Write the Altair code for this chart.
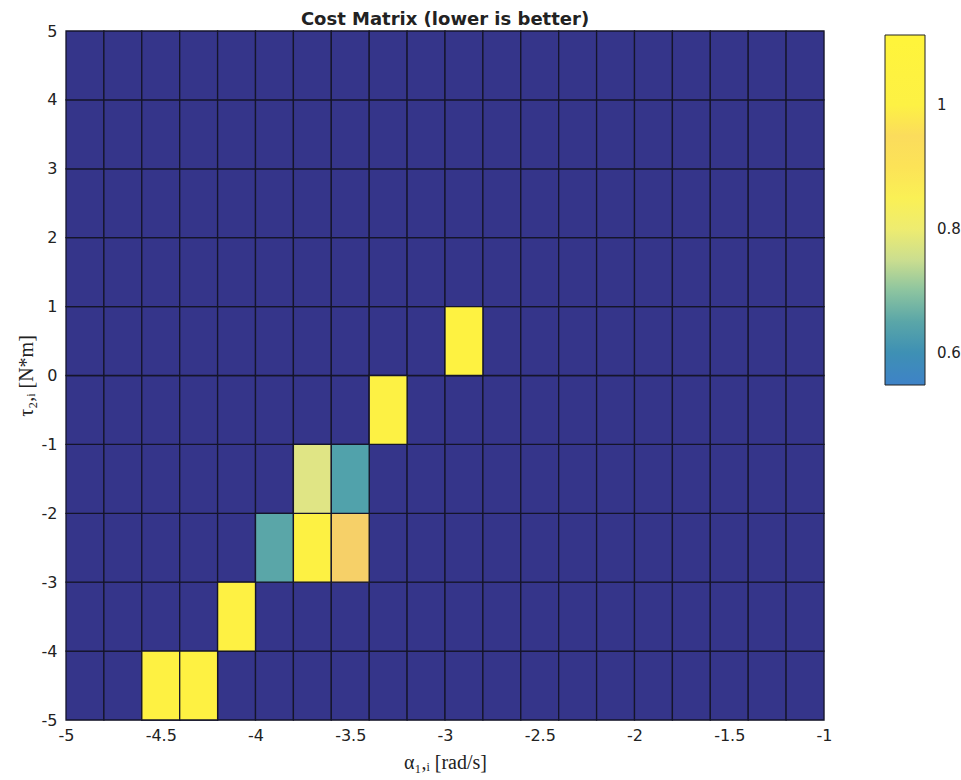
import altair as alt
import pandas as pd

# Grid edges
x_edges = [-5.0, -4.8, -4.6, -4.4, -4.2, -4.0, -3.8, -3.6, -3.4, -3.2, -3.0,
           -2.8, -2.6, -2.4, -2.2, -2.0, -1.8, -1.6, -1.4, -1.2, -1.0]
y_edges = [-5, -4, -3, -2, -1, 0, 1, 2, 3, 4, 5]

# Highlighted (finite-cost) cells: left x, bottom y, cost
hi_x = [-4.6, -4.4, -4.2, -4.0, -3.8, -3.6, -3.8, -3.6, -3.4, -3.0]
hi_y = [-5, -5, -4, -3, -3, -3, -2, -2, -1, 0]
hi_cost = [1.03, 1.03, 1.02, 0.65, 1.01, 0.93, 0.77, 0.64, 1.0, 1.04]

x_ticks = [-5, -4.5, -4, -3.5, -3, -2.5, -2, -1.5, -1]
y_ticks = [-5, -4, -3, -2, -1, 0, 1, 2, 3, 4, 5]
cbar_ticks = [0.6, 0.8, 1.0]

cmap_domain = [0.548, 0.6, 0.65, 0.70, 0.76, 0.82, 0.88, 0.93, 0.98, 1.113]
cmap_range = ["#3f82c8", "#3e90b4", "#5aa6a8", "#8cc4a0", "#dce28c", "#f8f060",
              "#fdf04a", "#f6d068", "#fdf046", "#fff43a"]

bg_rows = []
for i in range(len(x_edges) - 1):
    for j in range(len(y_edges) - 1):
        bg_rows.append({"x0": x_edges[i], "x1": x_edges[i + 1],
                        "y0": y_edges[j], "y1": y_edges[j + 1]})
bg = pd.DataFrame(bg_rows)

hi = pd.DataFrame({
    "x0": hi_x,
    "x1": [round(v + 0.2, 1) for v in hi_x],
    "y0": hi_y,
    "y1": [v + 1 for v in hi_y],
    "cost": hi_cost,
})

xscale = alt.Scale(domain=[-5, -1], nice=False, zero=False)
yscale = alt.Scale(domain=[-5, 5], nice=False, zero=False)

label_font = "DejaVu Sans"
title_font = "Liberation Serif"

xaxis = alt.Axis(values=x_ticks, labelExpr="'' + datum.value", title="α₁,ᵢ [rad/s]",
                 ticks=False, domain=False, grid=False, labelFontSize=16,
                 labelFont=label_font, labelColor="#222", labelPadding=7,
                 labelFlush=False, titleFont=title_font, titleFontSize=20,
                 titleFontWeight="normal", titleColor="#222", titleY=48,
                 titleBaseline="alphabetic")
yaxis = alt.Axis(values=y_ticks, labelExpr="'' + datum.value", title="τ₂,ᵢ [N*m]",
                 ticks=False, domain=False, grid=False, labelFontSize=16,
                 labelFont=label_font, labelColor="#222", labelPadding=9,
                 labelFlush=False, titleFont=title_font, titleFontSize=20,
                 titleFontWeight="normal", titleColor="#222", titleX=-40,
                 titleBaseline="middle")

base = alt.Chart(bg).mark_rect(color="#35358a", stroke="#15152a", strokeWidth=1.3).encode(
    x=alt.X("x0:Q", scale=xscale, axis=xaxis),
    x2="x1:Q",
    y=alt.Y("y0:Q", scale=yscale, axis=yaxis),
    y2="y1:Q",
)

cells = alt.Chart(hi).mark_rect(stroke="#15152a", strokeWidth=1.3).encode(
    x=alt.X("x0:Q", scale=xscale),
    x2="x1:Q",
    y=alt.Y("y0:Q", scale=yscale),
    y2="y1:Q",
    color=alt.Color("cost:Q",
                    scale=alt.Scale(domain=cmap_domain, range=cmap_range, clamp=True),
                    legend=alt.Legend(orient="none", legendX=819, legendY=4,
                                      direction="vertical", title=None,
                                      values=cbar_ticks, format="~g",
                                      gradientLength=350, gradientThickness=40,
                                      gradientStrokeColor="#222", gradientStrokeWidth=1,
                                      labelFontSize=15, labelFont=label_font,
                                      labelColor="#222", labelOffset=12, padding=0)),
)

chart = alt.layer(base, cells).properties(
    width=758,
    height=689,
    title=alt.TitleParams("Cost Matrix (lower is better)", fontSize=18,
                          font=label_font, fontWeight="bold", color="#222",
                          anchor="middle", offset=3, frame="group", dy=9),
    autosize=alt.AutoSizeParams(type="none"),
    padding={"left": 66, "top": 31, "right": 137, "bottom": 60},
).configure_view(stroke="#15152a", strokeWidth=1.3).configure(background="white")

chart.save("out.html", embed_options={"renderer": "svg", "actions": False})
